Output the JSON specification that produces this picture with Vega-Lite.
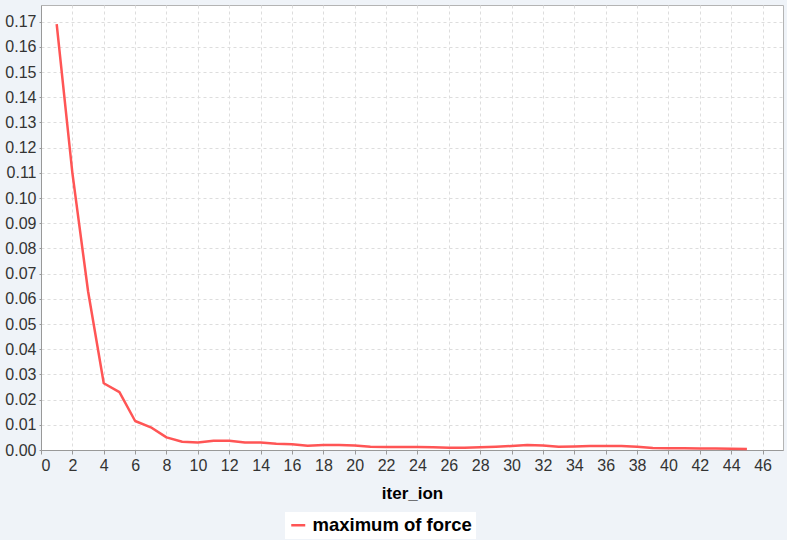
{
  "$schema": "https://vega.github.io/schema/vega-lite/v6.json",
  "autosize": "none",
  "width": 742,
  "height": 445,
  "padding": {"left": 41, "top": 5, "right": 4, "bottom": 90},
  "background": "#EFF3F8",
  "config": {
    "view": {"fill": "white", "stroke": "#B4B4B4", "strokeWidth": 1},
    "font": "Liberation Sans",
    "axis": {
      "labelFont": "Liberation Sans",
      "labelFontSize": 16,
      "labelColor": "#333333",
      "domainColor": "#999999",
      "tickColor": "#999999",
      "tickSize": 4,
      "gridColor": "#DDDDDD",
      "gridDash": [3, 3],
      "gridWidth": 1
    }
  },
  "data": {
    "values": [
      {"iter_ion": 1, "force": 0.169},
      {"iter_ion": 2, "force": 0.110},
      {"iter_ion": 3, "force": 0.063},
      {"iter_ion": 4, "force": 0.0265},
      {"iter_ion": 5, "force": 0.0230},
      {"iter_ion": 6, "force": 0.0115},
      {"iter_ion": 7, "force": 0.0090},
      {"iter_ion": 8, "force": 0.0050},
      {"iter_ion": 9, "force": 0.0033},
      {"iter_ion": 10, "force": 0.0030},
      {"iter_ion": 11, "force": 0.0037},
      {"iter_ion": 12, "force": 0.0037},
      {"iter_ion": 13, "force": 0.0030},
      {"iter_ion": 14, "force": 0.0030},
      {"iter_ion": 15, "force": 0.0025},
      {"iter_ion": 16, "force": 0.0023},
      {"iter_ion": 17, "force": 0.0017},
      {"iter_ion": 18, "force": 0.0020},
      {"iter_ion": 19, "force": 0.0020},
      {"iter_ion": 20, "force": 0.0018},
      {"iter_ion": 21, "force": 0.0013},
      {"iter_ion": 22, "force": 0.0012},
      {"iter_ion": 23, "force": 0.0012},
      {"iter_ion": 24, "force": 0.0012},
      {"iter_ion": 25, "force": 0.0011},
      {"iter_ion": 26, "force": 0.0009},
      {"iter_ion": 27, "force": 0.0009},
      {"iter_ion": 28, "force": 0.0011},
      {"iter_ion": 29, "force": 0.0013},
      {"iter_ion": 30, "force": 0.0016},
      {"iter_ion": 31, "force": 0.0020},
      {"iter_ion": 32, "force": 0.0018},
      {"iter_ion": 33, "force": 0.0013},
      {"iter_ion": 34, "force": 0.0014},
      {"iter_ion": 35, "force": 0.0016},
      {"iter_ion": 36, "force": 0.0016},
      {"iter_ion": 37, "force": 0.0016},
      {"iter_ion": 38, "force": 0.0013},
      {"iter_ion": 39, "force": 0.0008},
      {"iter_ion": 40, "force": 0.0007},
      {"iter_ion": 41, "force": 0.0007},
      {"iter_ion": 42, "force": 0.0006},
      {"iter_ion": 43, "force": 0.0006},
      {"iter_ion": 44, "force": 0.0005},
      {"iter_ion": 45, "force": 0.0004}
    ]
  },
  "mark": {"type": "line", "strokeWidth": 2.5, "strokeJoin": "round"},
  "encoding": {
    "x": {
      "field": "iter_ion",
      "type": "quantitative",
      "scale": {"domain": [0, 47.3], "nice": false, "zero": false},
      "axis": {
        "values": [0,2,4,6,8,10,12,14,16,18,20,22,24,26,28,30,32,34,36,38,40,42,44,46],
        "title": "iter_ion",
        "titleFont": "Liberation Sans",
        "titleFontSize": 17,
        "titleFontWeight": "bold",
        "titleColor": "#000000",
        "titlePadding": 12,
        "labelPadding": 3
      }
    },
    "y": {
      "field": "force",
      "type": "quantitative",
      "scale": {"domain": [0, 0.1766], "nice": false},
      "axis": {
        "values": [0,0.01,0.02,0.03,0.04,0.05,0.06,0.07,0.08,0.09,0.1,0.11,0.12,0.13,0.14,0.15,0.16,0.17],
        "format": ".2f",
        "title": null,
        "tickSize": 2,
        "labelPadding": 3
      }
    },
    "color": {
      "datum": "maximum of force",
      "type": "nominal",
      "scale": {"range": ["#FF5555"]},
      "legend": {
        "title": null,
        "orient": "none",
        "legendX": 244,
        "legendY": 507,
        "fillColor": "white",
        "padding": 4,
        "symbolType": "stroke",
        "symbolStrokeWidth": 2.5,
        "symbolSize": 196,
        "labelFont": "Liberation Sans",
        "labelFontSize": 18.5,
        "labelFontWeight": "bold",
        "labelColor": "#000000",
        "labelOffset": 5
      }
    }
  }
}
